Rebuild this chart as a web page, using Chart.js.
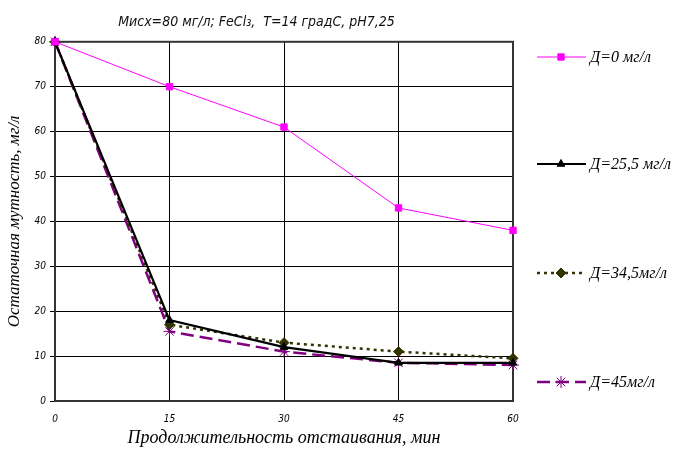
<!DOCTYPE html>
<html>
<head>
<meta charset="utf-8">
<script src="https://cdn.jsdelivr.net/npm/chart.js@4/dist/chart.umd.min.js"></script>
<style>
  html, body { margin: 0; padding: 0; background: #fff; }
  #wrap { width: 681px; height: 453px; position: relative; }
</style>
</head>
<body>
<div id="wrap"><canvas id="chart"></canvas></div>
<script>
// время отстаивания, мин
const TIMES = [0, 15, 30, 45, 60];
// остаточная мутность, мг/л
const D0    = [80, 70, 61, 43, 38];
const D25_5 = [80, 18, 12, 8.5, 8.5];
const D34_5 = [80, 17, 13, 11, 9.5];
const D45   = [80, 15.5, 11, 8.5, 8];

const LABELS = ['Д=0 мг/л', 'Д=25,5 мг/л', 'Д=34,5мг/л', 'Д=45мг/л'];
const TITLE  = 'Мисх=80 мг/л; FeCl\u2083,  T=14 градС, pH7,25';

const TECH = "'DejaVu Sans Condensed', 'DejaVu Sans', sans-serif";
const SERIF = "'Liberation Serif', 'Times New Roman', serif";

const pts = arr => arr.map((v, i) => ({ x: TIMES[i], y: v }));

// legend on the right, line sample with marker in the middle
const sideLegend = {
  id: 'sideLegend',
  afterDraw(chart) {
    const ctx = chart.ctx;
    const rows = [57, 164, 273, 382];
    chart.data.datasets.forEach((ds, i) => {
      const y = rows[i];
      ctx.save();
      ctx.strokeStyle = ds.borderColor;
      ctx.lineWidth = ds.borderWidth;
      ctx.setLineDash(ds.borderDash || []);
      ctx.beginPath();
      ctx.moveTo(537, y);
      ctx.lineTo(586, y);
      ctx.stroke();
      ctx.restore();

      ctx.save();
      ctx.fillStyle = ds.pointBackgroundColor;
      ctx.strokeStyle = ds.pointBorderColor;
      ctx.lineWidth = ds.pointBorderWidth || 1;
      Chart.helpers.drawPoint(ctx, {
        pointStyle: ds.pointStyle, radius: ds.pointRadius, rotation: 0, borderWidth: ds.pointBorderWidth || 1
      }, 561, y);
      ctx.fillStyle = '#000';
      ctx.font = 'italic 16px ' + SERIF;
      ctx.textBaseline = 'middle';
      ctx.textAlign = 'left';
      ctx.fillText(ds.label, 590, y + 1);
      ctx.restore();
    });
  }
};

// frame round the plot area
const frame = {
  id: 'frame',
  beforeDatasetsDraw(chart) {
    const a = chart.chartArea, ctx = chart.ctx;
    ctx.save();
    ctx.strokeStyle = '#333';
    ctx.lineWidth = 2;
    ctx.strokeRect(a.left, a.top, a.right - a.left, a.bottom - a.top);
    ctx.restore();
  }
};

new Chart(document.getElementById('chart'), {
  type: 'line',
  data: {
    datasets: [
      {
        label: LABELS[0], data: pts(D0),
        borderColor: '#ff00ff', borderWidth: 1,
        pointStyle: 'rect', pointRadius: 4.5,
        pointBackgroundColor: '#ff00ff', pointBorderColor: '#ff00ff', pointBorderWidth: 1
      },
      {
        label: LABELS[1], data: pts(D25_5),
        borderColor: '#000', borderWidth: 2.2,
        pointStyle: 'triangle', pointRadius: 4.5,
        pointBackgroundColor: '#000', pointBorderColor: '#000', pointBorderWidth: 1
      },
      {
        label: LABELS[2], data: pts(D34_5),
        borderColor: '#333300', borderWidth: 2.5, borderDash: [3, 4],
        pointStyle: 'rectRot', pointRadius: 5,
        pointBackgroundColor: '#333300', pointBorderColor: '#333300', pointBorderWidth: 1
      },
      {
        label: LABELS[3], data: pts(D45),
        borderColor: '#800080', borderWidth: 2.5, borderDash: [13, 6],
        pointStyle: 'star', pointRadius: 6,
        pointBackgroundColor: '#800080', pointBorderColor: '#800080', pointBorderWidth: 1
      }
    ]
  },
  options: {
    responsive: true,
    maintainAspectRatio: false,
    animation: false,
    layout: { padding: { left: 0, right: 168, top: 0, bottom: 0 } },
    plugins: {
      legend: { display: false },
      tooltip: { enabled: false },
      title: {
        display: true, text: TITLE, color: '#111',
        font: { family: TECH, style: 'italic', size: 14, weight: 'normal' },
        padding: { top: 14, bottom: 11 }
      }
    },
    elements: { line: { tension: 0 }, point: { hitRadius: 0 } },
    clip: false,
    scales: {
      x: {
        type: 'linear', min: 0, max: 60,
        ticks: {
          stepSize: 15, color: '#000', padding: 12,
          font: { family: TECH, style: 'italic', size: 10 }
        },
        grid: { color: '#000', lineWidth: 1, drawTicks: false },
        border: { color: '#333', width: 2 },
        title: {
          display: true, text: 'Продолжительность отстаивания, мин', color: '#000',
          font: { family: SERIF, style: 'italic', size: 18 }, padding: { top: 4 }
        },
        afterFit(s) { s.height = 52; }
      },
      y: {
        min: 0, max: 80,
        ticks: {
          stepSize: 10, color: '#000', padding: 4,
          font: { family: TECH, style: 'italic', size: 10 }
        },
        grid: { color: '#000', lineWidth: 1, tickLength: 5 },
        border: { color: '#333', width: 2 },
        title: {
          display: true, text: 'Остаточная мутность, мг/л', color: '#000',
          font: { family: SERIF, style: 'italic', size: 17 }, padding: { bottom: 2 }
        },
        afterFit(s) { s.width = 55; }
      }
    }
  },
  plugins: [frame, sideLegend]
});
</script>
</body>
</html>
